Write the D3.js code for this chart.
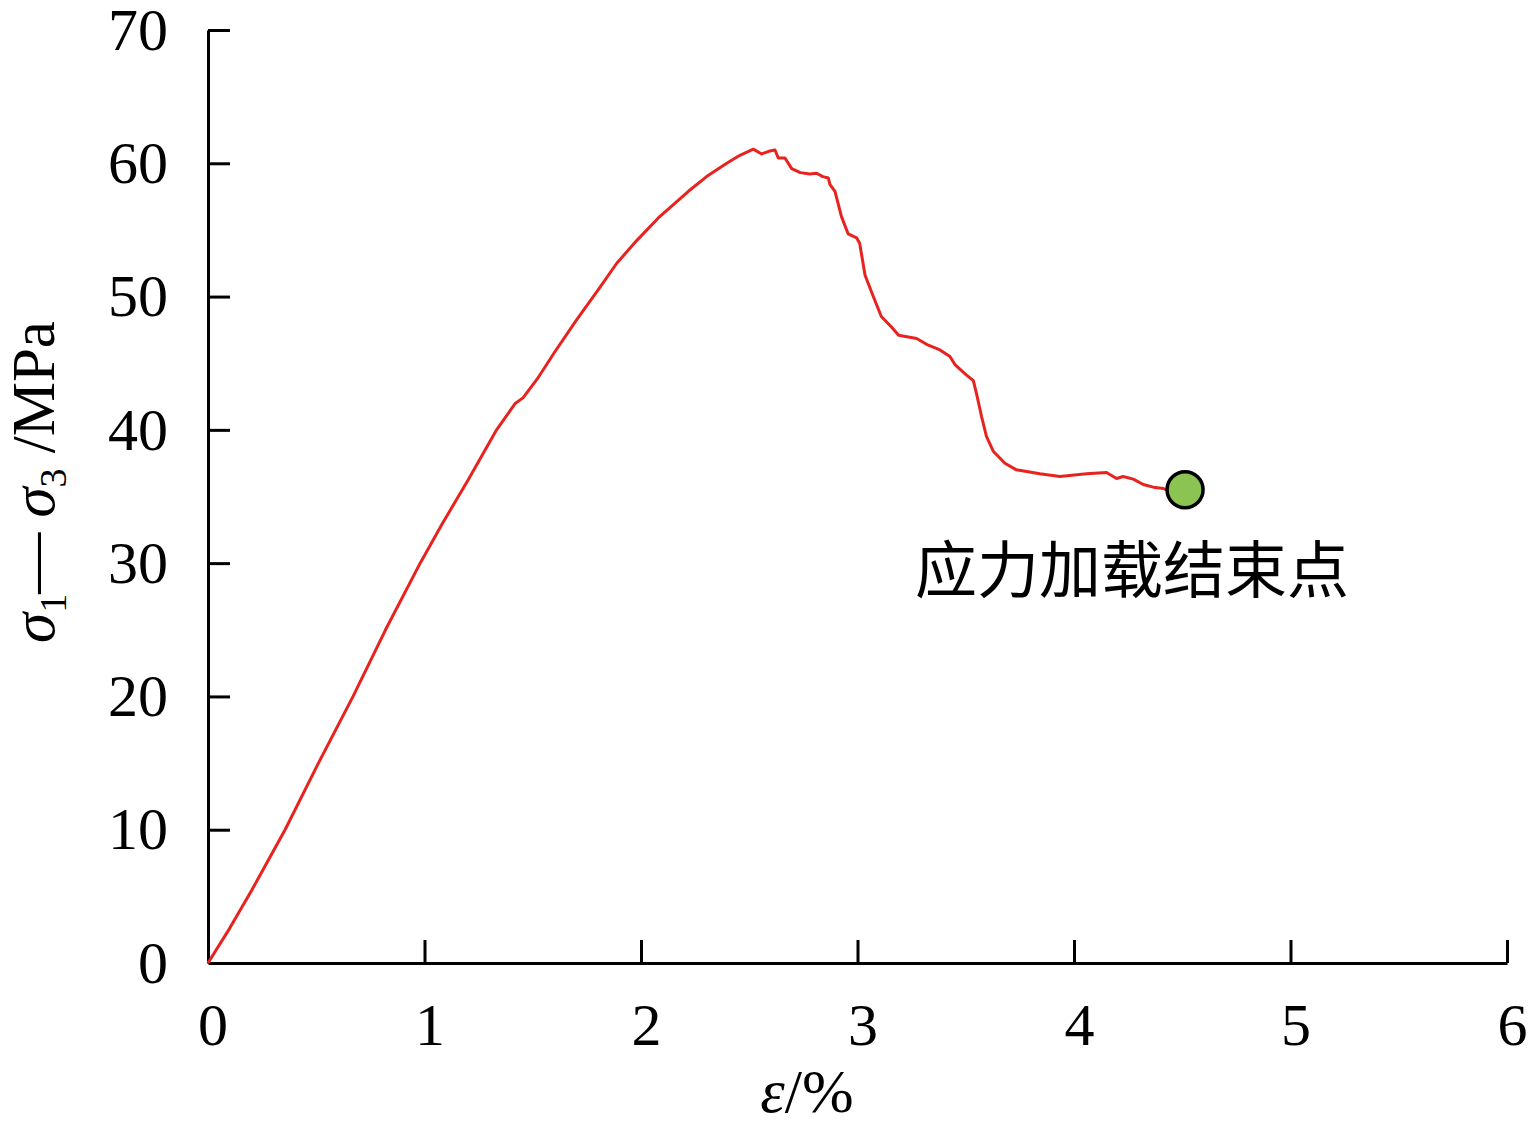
<!DOCTYPE html>
<html>
<head>
<meta charset="utf-8">
<script src="https://cdn.jsdelivr.net/npm/d3@7"></script>
<style>
html,body{margin:0;padding:0;background:#fff;}
svg{display:block;}
</style>
</head>
<body>
<svg id="chart" width="1530" height="1134"></svg>
<script>
// ---- data ----
const strain = [0, 0.1, 0.2, 0.356, 0.51, 0.67, 0.82, 0.98, 1.08, 1.2, 1.333, 1.42, 1.455, 1.52, 1.6, 1.7, 1.811, 1.888, 1.98, 2.08, 2.219, 2.303, 2.396, 2.457, 2.519, 2.557, 2.59, 2.619, 2.634, 2.665, 2.696, 2.736, 2.78, 2.811, 2.84, 2.865, 2.873, 2.896, 2.926, 2.957, 2.996, 3.01, 3.035, 3.073, 3.11, 3.158, 3.19, 3.273, 3.327, 3.381, 3.427, 3.45, 3.497, 3.535, 3.55, 3.573, 3.596, 3.627, 3.681, 3.734, 3.842, 3.935, 4.058, 4.15, 4.197, 4.227, 4.274, 4.32, 4.366, 4.413, 4.44];
const stress = [0, 2.6, 5.4, 10.0, 15.0, 20.0, 25.0, 30.0, 32.9, 36.2, 40.0, 42.0, 42.4, 43.8, 45.8, 48.2, 50.7, 52.5, 54.2, 55.9, 57.9, 59.0, 60.0, 60.6, 61.06, 60.7, 60.9, 61.0, 60.4, 60.4, 59.6, 59.3, 59.2, 59.25, 59.0, 58.9, 58.4, 57.9, 56.0, 54.7, 54.4, 54.0, 51.6, 50.0, 48.5, 47.7, 47.1, 46.85, 46.35, 46.0, 45.5, 44.9, 44.2, 43.7, 42.7, 41.0, 39.5, 38.4, 37.5, 37.0, 36.7, 36.5, 36.7, 36.8, 36.35, 36.5, 36.3, 35.9, 35.7, 35.6, 35.4];
const endPoint = [4.513, 35.5];
const xTicks = [0, 1, 2, 3, 4, 5, 6];
const yTicks = [0, 10, 20, 30, 40, 50, 60, 70];
const annotation = "应力加载结束点";

// ---- drawing ----
const svg = d3.select("#chart");
const x = d3.scaleLinear().domain([0, 6]).range([208, 1507]);
const y = d3.scaleLinear().domain([0, 70]).range([963, 30]);
const serif = "'Liberation Serif','Times New Roman',serif";

const xAxis = svg.append("g")
  .attr("transform", "translate(0,963)")
  .call(d3.axisBottom(x).tickValues(xTicks.slice(1)).tickFormat(d3.format("d"))
        .tickSizeInner(-23).tickSizeOuter(0).tickPadding(39));
xAxis.select(".domain").attr("stroke", "#000").attr("stroke-width", 3);
xAxis.selectAll(".tick line").attr("stroke", "#000").attr("stroke-width", 3);
xAxis.selectAll(".tick text").attr("font-family", serif).attr("font-size", 60)
  .attr("fill", "#000").attr("dx", 5);
// label for 0 on x axis
xAxis.append("text").attr("x", x(0) + 5).attr("y", 39).attr("dy", "0.71em")
  .attr("text-anchor", "middle").attr("font-family", serif).attr("font-size", 60)
  .attr("fill", "#000").text(xTicks[0]);

const yAxis = svg.append("g")
  .attr("transform", "translate(208,0)")
  .call(d3.axisLeft(y).tickValues(yTicks).tickFormat(d3.format("d"))
        .tickSizeInner(-22).tickSizeOuter(0).tickPadding(40));
yAxis.select(".domain").attr("stroke", "#000").attr("stroke-width", 3);
yAxis.selectAll(".tick line").attr("stroke", "#000").attr("stroke-width", 3)
  .filter(d => d === 0).remove();
yAxis.selectAll(".tick text").attr("font-family", serif).attr("font-size", 60).attr("fill", "#000");

// curve
const pts = strain.map((s, i) => [s, stress[i]]);
svg.append("path").datum(pts)
  .attr("fill", "none").attr("stroke", "#e8231f").attr("stroke-width", 3)
  .attr("stroke-linejoin", "round")
  .attr("d", d3.line().x(d => x(d[0])).y(d => y(d[1])));

// end point marker
svg.append("circle").attr("cx", x(endPoint[0])).attr("cy", y(endPoint[1])).attr("r", 18)
  .attr("fill", "#8bc452").attr("stroke", "#000").attr("stroke-width", 3.5);

// annotation
svg.append("text").attr("x", 915).attr("y", 593)
  .attr("font-family", "'Noto Sans CJK SC'").attr("font-size", 62).attr("fill", "#000")
  .text(annotation);

// x label
const xl = svg.append("text").attr("x", 807).attr("y", 1112).attr("text-anchor", "middle")
  .attr("font-family", serif).attr("font-size", 62).attr("fill", "#000");
xl.append("tspan").attr("font-style", "italic").text("ε");
xl.append("tspan").text("/%");

// y label
const yl = svg.append("text").attr("transform", "translate(54,482) rotate(-90)")
  .attr("text-anchor", "middle").attr("font-family", serif).attr("font-size", 61).attr("fill", "#000");
yl.append("tspan").attr("font-style", "italic").text("σ");
yl.append("tspan").attr("font-size", 38).attr("dy", 12).text("1");
yl.append("tspan").attr("dy", -12).text("—");
yl.append("tspan").attr("font-style", "italic").text(" σ");
yl.append("tspan").attr("font-size", 38).attr("dy", 12).text("3");
yl.append("tspan").attr("dy", -12).text(" /MPa");
</script>
</body>
</html>
